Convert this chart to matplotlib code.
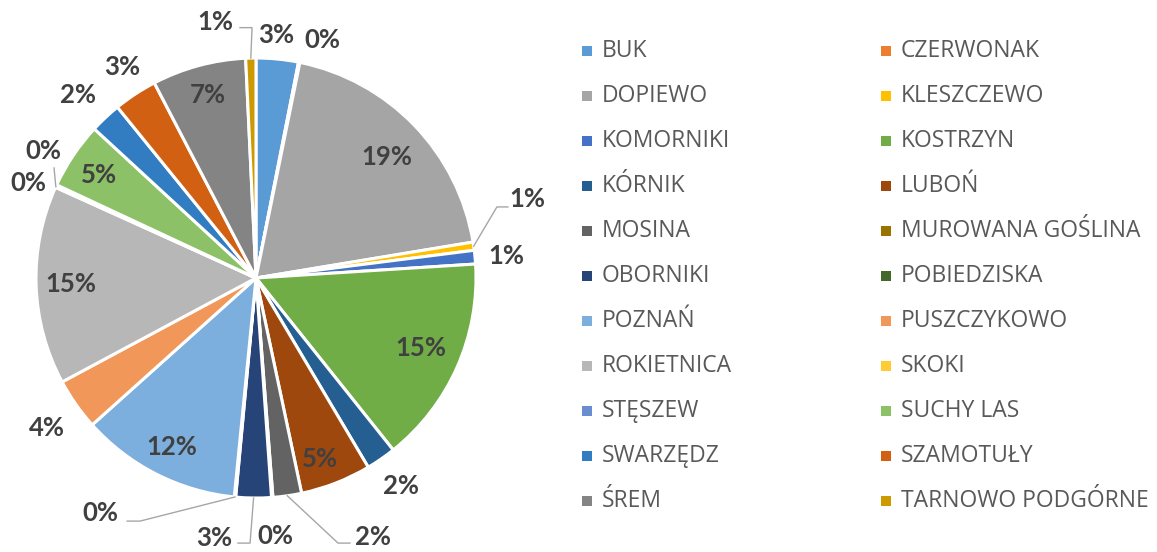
import numpy as np
import matplotlib.pyplot as plt
from matplotlib.patches import Rectangle

# gminy and their share (percent), clockwise from 12 o'clock
names = ["BUK", "CZERWONAK", "DOPIEWO", "KLESZCZEWO", "KOMORNIKI", "KOSTRZYN",
         "KÓRNIK", "LUBOŃ", "MOSINA", "MUROWANA GOŚLINA", "OBORNIKI", "POBIEDZISKA",
         "POZNAŃ", "PUSZCZYKOWO", "ROKIETNICA", "SKOKI", "STĘSZEW", "SUCHY LAS",
         "SWARZĘDZ", "SZAMOTUŁY", "ŚREM", "TARNOWO PODGÓRNE"]
values = [3.1, 0.1, 19.2, 0.6, 1.0, 15.3,
          2.2, 5.2, 2.1, 0.1, 2.6, 0.1,
          11.8, 3.8, 14.6, 0.1, 0.1, 4.9,
          2.3, 3.2, 6.9, 0.75]
colors = ["#5B9BD5", "#ED7D31", "#A5A5A5", "#FFC000", "#4472C4", "#70AD47",
          "#255E91", "#9E480E", "#636363", "#997300", "#264478", "#43682B",
          "#7CAFDD", "#F1975A", "#B7B7B7", "#FFCD33", "#698ED0", "#8CC168",
          "#327DC2", "#D26012", "#848484", "#CC9A00"]

# label centres in pie-radius units
label_pos = [(0.09, 1.105), (0.30, 1.08), (0.595, 0.55), (1.232, 0.359), (1.136, 0.10),
             (0.748, -0.318), (0.659, -0.945), (0.291, -0.823), (0.532, -1.177),
             (0.086, -1.173), (-0.191, -1.182), (-0.709, -1.068), (-0.382, -0.768),
             (-0.95, -0.682), (-0.842, -0.027), (-1.036, 0.432), (-0.968, 0.577),
             (-0.714, 0.468), (-0.809, 0.832), (-0.609, 0.959), (-0.218, 0.832),
             (-0.184, 1.164)]
# leader lines: wedge edge -> elbow -> end
leaders = {3: [(1.095, 0.323), (1.145, 0.323)],
           8: [(0.373, -1.205), (0.427, -1.205)],
           10: [(-0.027, -1.205), (-0.082, -1.205)],
           11: [(-0.527, -1.105), (-0.586, -1.105)],
           15: [(-0.918, 0.50)],
           21: [(-0.018, 1.138), (-0.073, 1.138)]}

W, H = 1157, 552
cx, cy, R = 256, 278, 220.0     # pie centre and radius in pixels (from top)

fig = plt.figure(figsize=(W/100, H/100), dpi=100)
ax = fig.add_axes([0, 0, 1, 1])

wedges, _ = ax.pie(values, colors=colors, startangle=90, counterclock=False,
                   radius=1, wedgeprops=dict(edgecolor="white", linewidth=2.2))

total = sum(values)
for i, w in enumerate(wedges):
    pct = "%d%%" % int(round(100*values[i]/total))
    x, y = label_pos[i]
    ax.text(x, y, pct, ha="center", va="center", fontsize=18.5,
            fontweight="bold", color="#404040", family=["Lato", "DejaVu Sans"])
    if i in leaders:
        a = np.deg2rad(0.5*(w.theta1 + w.theta2))
        pts = [(np.cos(a), np.sin(a))] + leaders[i]
        ax.plot([p[0] for p in pts], [p[1] for p in pts], color="#A6A6A6", lw=1.0)

ax.set_xlim(-cx/R, (W - cx)/R)
ax.set_ylim(-(H - cy)/R, cy/R)
ax.set_aspect("auto")
ax.axis("off")

# legend, two columns, row by row
for i, name in enumerate(names):
    row, col = divmod(i, 2)
    mx = [582, 881][col]
    tx = [602, 901][col]
    yc = 51 + 45*row
    fig.patches.append(Rectangle((mx/W, 1 - (yc + 5)/H), 10/W, 10/H,
                                 transform=fig.transFigure, color=colors[i], lw=0))
    fig.text(tx/W, 1 - yc/H, name, ha="left", va="center", fontsize=16.5,
             color="#595959", family=["Open Sans", "DejaVu Sans"])

fig.savefig("out.png", dpi=100)
